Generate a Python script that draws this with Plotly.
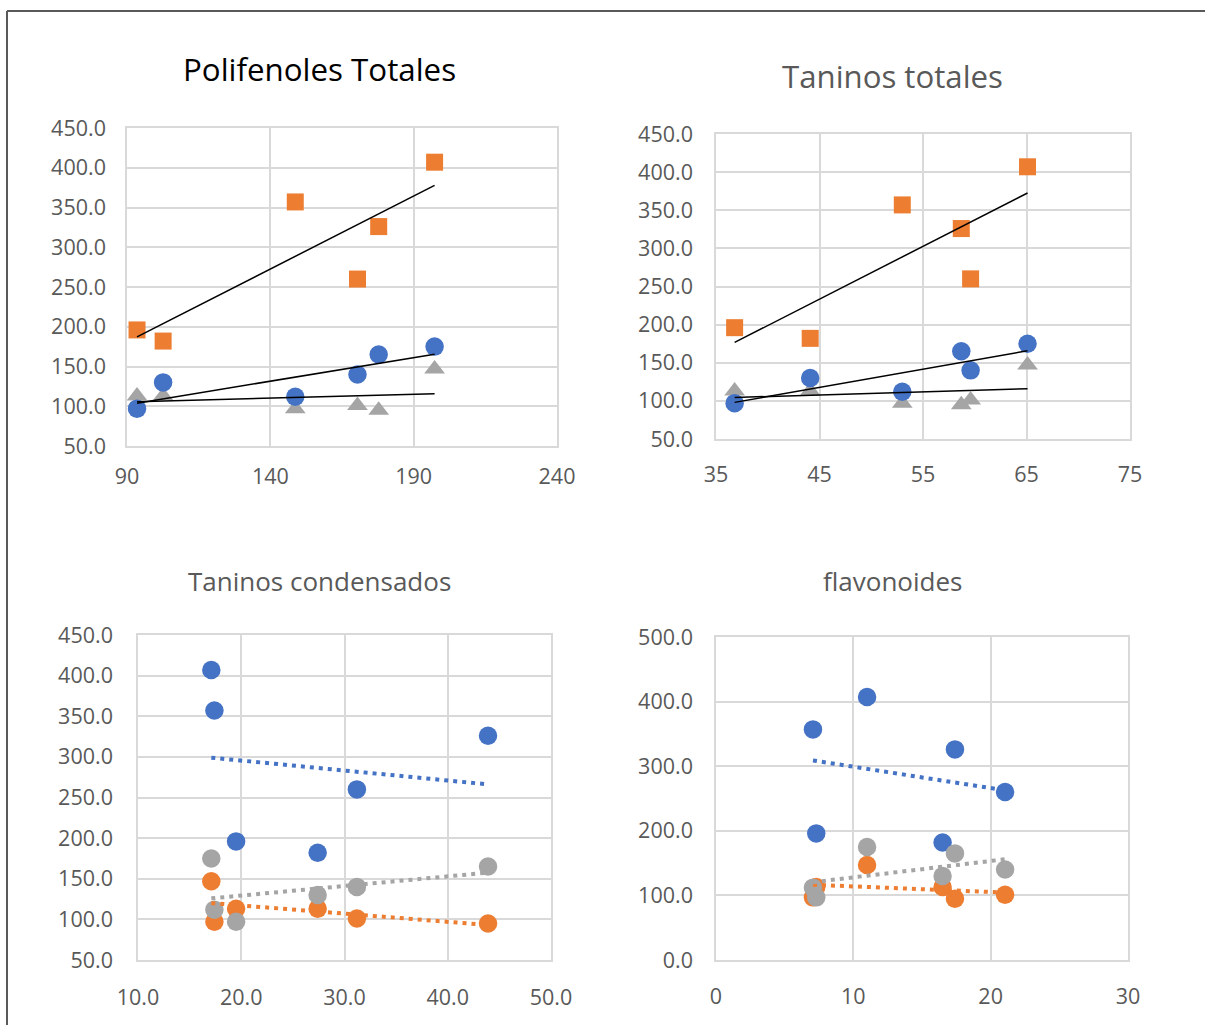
import numpy as np
import plotly.graph_objects as go

# Four phenolic indices measured on six samples
polifenoles = [93.5, 102.6, 148.7, 170.4, 177.8, 197.3]
taninos_totales = [36.8, 44.1, 53.0, 59.6, 58.7, 65.1]
taninos_condensados = [19.5, 27.4, 17.4, 31.2, 43.9, 17.1]
flavonoides = [7.3, 16.5, 7.06, 21.05, 17.4, 11.0]

# Three response series plotted against each index
serie_1 = [196, 182, 357, 260, 326, 407]
serie_2 = [97, 130, 112, 140, 165, 175]
serie_3 = [113, 113, 97, 101, 95, 147]

AZUL = "#4472C4"
NARANJA = "#ED7D31"
GRIS = "#A5A5A5"
TEXTO = "#595959"
REJILLA = "#D9D9D9"
FUENTE = "Open Sans"

W, H = 1205, 1025


def tendencia(x, y):
    """Least-squares linear trend over the span of the data."""
    m, b = np.polyfit(x, y, 1)
    xs = np.array([min(x), max(x)])
    return xs, m * xs + b


def dom_x(a, b):
    return [a / W, b / W]


def dom_y(top, bottom):
    return [1 - bottom / H, 1 - top / H]


fig = go.Figure()

# --- Panels 1 and 2: squares / circles / triangles with black trendlines
for ax, xdata in (("", polifenoles), ("2", taninos_totales)):
    xa, ya = "x" + ax, "y" + ax
    fig.add_trace(go.Scatter(x=xdata, y=serie_3, mode="markers", xaxis=xa, yaxis=ya,
                             marker=dict(symbol="triangle-up", size=18, color=GRIS)))
    fig.add_trace(go.Scatter(x=xdata, y=serie_1, mode="markers", xaxis=xa, yaxis=ya,
                             marker=dict(symbol="square", size=17, color=NARANJA)))
    fig.add_trace(go.Scatter(x=xdata, y=serie_2, mode="markers", xaxis=xa, yaxis=ya,
                             marker=dict(symbol="circle", size=18.5, color=AZUL)))
    for serie in (serie_1, serie_2, serie_3):
        tx, ty = tendencia(xdata, serie)
        fig.add_trace(go.Scatter(x=tx, y=ty, mode="lines", xaxis=xa, yaxis=ya,
                                 line=dict(color="black", width=1.5)))

# --- Panels 3 and 4: circles with dotted trendlines in the series colour
for ax, xdata in (("3", taninos_condensados), ("4", flavonoides)):
    xa, ya = "x" + ax, "y" + ax
    for serie, color in ((serie_1, AZUL), (serie_3, NARANJA), (serie_2, GRIS)):
        fig.add_trace(go.Scatter(x=xdata, y=serie, mode="markers", xaxis=xa, yaxis=ya,
                                 marker=dict(symbol="circle", size=18.5, color=color)))
    for serie, color in ((serie_1, AZUL), (serie_3, NARANJA), (serie_2, GRIS)):
        tx, ty = tendencia(xdata, serie)
        fig.add_trace(go.Scatter(x=tx, y=ty, mode="lines", xaxis=xa, yaxis=ya,
                                 line=dict(color=color, width=4, dash="4px,5px")))


def eje(dominio, rango, paso, formato, ancla, sep):
    return dict(domain=dominio, range=rango, dtick=paso, tick0=rango[0],
                tickformat=formato, anchor=ancla, automargin=False,
                showgrid=True, gridcolor=REJILLA, gridwidth=1.5, zeroline=False,
                showline=True, linecolor=REJILLA, linewidth=1.5, mirror=True,
                ticks="outside", ticklen=sep, tickcolor="rgba(0,0,0,0)",
                tickfont=dict(family=FUENTE, size=21.5, color=TEXTO),
                fixedrange=True)


fig.update_layout(
    width=W, height=H,
    margin=dict(l=0, r=0, t=0, b=0, autoexpand=False),
    paper_bgcolor="white", plot_bgcolor="white",
    showlegend=False,
    xaxis=eje(dom_x(127, 557), [90, 240], 50, "d", "y", 10),
    yaxis=eje(dom_y(128, 446), [50, 450], 50, ".1f", "x", 15),
    xaxis2=eje(dom_x(716, 1130), [35, 75], 10, "d", "y2", 15),
    yaxis2=eje(dom_y(134, 439), [50, 450], 50, ".1f", "x2", 17),
    xaxis3=eje(dom_x(138, 551), [10, 50], 10, ".1f", "y3", 17),
    yaxis3=eje(dom_y(635, 960), [50, 450], 50, ".1f", "x3", 19),
    xaxis4=eje(dom_x(716, 1128), [0, 30], 10, "d", "y4", 16),
    yaxis4=eje(dom_y(637, 960), [0, 500], 100, ".1f", "x4", 17),
)

titulos = [
    ("Polifenoles Totales", 319, 69, 31.3, "black"),
    ("Taninos totales", 892, 76, 31.2, TEXTO),
    ("Taninos condensados", 319, 581, 26, TEXTO),
    ("flavonoides", 892, 581, 26, TEXTO),
]
for texto, cx, cy, tam, color in titulos:
    fig.add_annotation(text=texto, x=cx / W, y=1 - cy / H, xref="paper", yref="paper",
                       showarrow=False, xanchor="center", yanchor="middle",
                       font=dict(family=FUENTE, size=tam, color=color))

# Outer frame of the chart area (left and top edges)
fig.add_shape(type="line", xref="paper", yref="paper",
              x0=7 / W, x1=1.0, y0=1 - 11 / H, y1=1 - 11 / H,
              line=dict(color=TEXTO, width=2))
fig.add_shape(type="line", xref="paper", yref="paper",
              x0=7 / W, x1=7 / W, y0=0, y1=1 - 11 / H,
              line=dict(color=TEXTO, width=2))

fig.write_html("out.html", config=dict(displayModeBar=False))
